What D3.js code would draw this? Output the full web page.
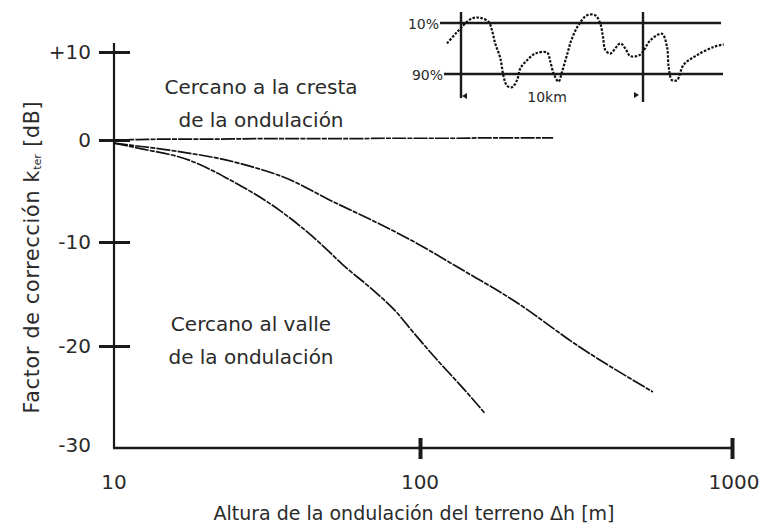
<!DOCTYPE html>
<html>
<head>
<meta charset="utf-8">
<script src="https://cdn.jsdelivr.net/npm/d3@7/dist/d3.min.js"></script>
<style>
  html, body { margin: 0; padding: 0; background: #fff; }
  svg { display: block; }
  text { font-family: "DejaVu Sans", "Liberation Sans", sans-serif; fill: #2a2a2a; }
</style>
</head>
<body>
<svg id="chart" width="761" height="530"></svg>
<script>
// Terrain correction factor vs. terrain undulation height (log x)
const xTicks = [10, 100, 1000];
const yTicks = [10, 0, -10, -20, -30];

// Receiver near the crest of the undulation
const crestH = [10, 12, 15, 20, 30, 45, 60, 80, 100, 130, 170, 220, 267];
const crestK = [0, 0.05, 0.1, 0.1, 0.15, 0.15, 0.15, 0.2, 0.2, 0.2, 0.25, 0.25, 0.25];

// Receiver near the valley – medium curve
const midH = [10, 11.3, 15.2, 25.8, 37.6, 50.8, 70, 90.6, 137, 199, 325, 558];
const midK = [-0.3, -0.5, -1.0, -2.3, -3.9, -5.9, -7.9, -9.6, -12.7, -15.6, -20.1, -24.5];

// Receiver near the valley – steep curve
const lowH = [10, 12, 17.7, 23.9, 34.8, 47.1, 56, 70.1, 84.1, 92.7, 113, 131.5, 144.6, 161.4];
const lowK = [-0.3, -0.8, -2.0, -3.9, -6.9, -10.1, -12.2, -14.6, -16.8, -18.3, -21.3, -23.5, -24.9, -26.6];

// Inset terrain profile: distance [km], relative height (0 = 90 % level, 1 = 10 % level)
const profKm = [-0.77, -0.22, 0.6, 1.06, 1.52, 1.7, 1.88, 2.16, 2.34, 2.53, 2.8, 3.08, 3.26, 3.63, 4.08,
  4.73, 4.91, 5.09, 5.36, 5.55, 5.82, 6.1, 6.46, 6.92, 7.38, 7.65, 7.8, 7.93, 8.2, 8.75, 9.03, 9.3,
  9.85, 10.4, 11.04, 11.32, 11.41, 11.59, 11.87, 12.23, 12.97, 13.88, 14.43];
const profH = [0.6, 0.82, 1.09, 1.1, 1.02, 0.86, 0.6, 0.31, -0.05, -0.23, -0.26, -0.12, 0.11, 0.27, 0.4,
  0.42, 0.24, 0.01, -0.15, 0.04, 0.37, 0.7, 0.96, 1.15, 1.15, 0.99, 0.73, 0.47, 0.4, 0.6, 0.5, 0.35,
  0.38, 0.66, 0.79, 0.53, 0.14, -0.12, -0.12, 0.18, 0.37, 0.53, 0.58];
const levelLabels = ["10%", "90%"];
const levelValues = [1, 0];
const spanKm = [0, 10];

const svg = d3.select("#chart");

const x = d3.scaleLog().domain([10, 100, 1000]).range([114, 420, 732]);
const y = d3.scaleLinear().domain([-30, -20, -10, 0, 10]).range([448, 346, 242, 140, 52]);

// Axis lines
svg.append("line").attr("x1", 114).attr("x2", 114).attr("y1", 43).attr("y2", y(-30))
  .attr("stroke", "#1a1a1a").attr("stroke-width", 2.2);
svg.append("line").attr("x1", 113).attr("x2", x(1000)).attr("y1", y(-30)).attr("y2", y(-30))
  .attr("stroke", "#1a1a1a").attr("stroke-width", 2.6);

// Y ticks crossing the axis
const yAxis = svg.append("g").attr("transform", "translate(114,0)")
  .call(d3.axisLeft(y).tickValues(yTicks.filter(v => v > -30)).tickSize(0)
    .tickFormat(() => ""));
yAxis.select(".domain").remove();
yAxis.selectAll(".tick line").attr("x1", -15).attr("x2", 16)
  .attr("stroke", "#1a1a1a").attr("stroke-width", 3);

svg.append("g").selectAll("text").data(yTicks).join("text")
  .attr("x", 91).attr("y", d => (d === -30 ? y(d) - 3 : y(d)))
  .attr("text-anchor", "end").attr("dominant-baseline", "central")
  .attr("font-size", 20)
  .text(d => d > 0 ? "+" + d : String(d));

// X ticks
const xAxis = svg.append("g").attr("transform", `translate(0,${y(-30)})`)
  .call(d3.axisBottom(x).tickValues(xTicks.filter(v => v > 10)).tickSize(0).tickFormat(() => ""));
xAxis.select(".domain").remove();
xAxis.selectAll(".tick line").attr("y1", -10).attr("y2", 11)
  .attr("stroke", "#1a1a1a").attr("stroke-width", 4);

svg.append("g").selectAll("text").data(xTicks).join("text")
  .attr("x", d => x(d) + (d === 1000 ? 2 : 0)).attr("y", 482)
  .attr("text-anchor", "middle").attr("dominant-baseline", "central")
  .attr("font-size", 20).text(d => d);

// Axis titles
svg.append("text").attr("x", 414).attr("y", 513).attr("text-anchor", "middle")
  .attr("dominant-baseline", "central").attr("font-size", 19)
  .text("Altura de la ondulación del terreno Δh [m]");

const yt = svg.append("text").attr("transform", "translate(32,257) rotate(-90)")
  .attr("text-anchor", "middle").attr("dominant-baseline", "central")
  .attr("font-size", 20.5).attr("letter-spacing", 0.8);
yt.append("tspan").text("Factor de corrección k");
yt.append("tspan").attr("font-size", 11).attr("letter-spacing", 0).attr("dy", 5).text("ter");
yt.append("tspan").attr("dy", -5).text(" [dB]");

// Curves
const line = d3.line().x(d => x(d[0])).y(d => y(d[1])).curve(d3.curveMonotoneX);
const curves = [
  d3.zip(crestH, crestK),
  d3.zip(midH, midK),
  d3.zip(lowH, lowK)
];
svg.append("g").selectAll("path").data(curves).join("path")
  .attr("d", line).attr("fill", "none").attr("stroke", "#111")
  .attr("stroke-width", 1.7).attr("stroke-dasharray", "14 1.2 5 1.2");

// Annotations
const ann = [
  { t: ["Cercano a la cresta", "de la ondulación"], cx: 261, y0: 87 },
  { t: ["Cercano al valle", "de la ondulación"], cx: 251, y0: 324 }
];
ann.forEach(a => {
  svg.append("g").selectAll("text").data(a.t).join("text")
    .attr("x", a.cx).attr("y", (d, i) => a.y0 + i * 33)
    .attr("text-anchor", "middle").attr("dominant-baseline", "central")
    .attr("font-size", 20).text(d => d);
});

// Inset: terrain profile with 10 % / 90 % levels
const ix = d3.scaleLinear().domain([0, 10]).range([461, 643]);
const iy = d3.scaleLinear().domain([0, 1]).range([74, 23]);
const inset = svg.append("g");

inset.selectAll("line.lvl").data(levelValues).join("line").attr("class", "lvl")
  .attr("x1", (d, i) => i === 0 ? 440 : 444).attr("x2", (d, i) => i === 0 ? 721 : 723)
  .attr("y1", d => iy(d)).attr("y2", d => iy(d))
  .attr("stroke", "#1a1a1a").attr("stroke-width", 2.4);

inset.selectAll("line.span").data(spanKm).join("line").attr("class", "span")
  .attr("x1", d => ix(d)).attr("x2", d => ix(d))
  .attr("y1", 12).attr("y2", (d, i) => i === 0 ? 98 : 102)
  .attr("stroke", "#1a1a1a").attr("stroke-width", 2.4);

inset.selectAll("text.lvl").data(levelLabels).join("text").attr("class", "lvl")
  .attr("x", (d, i) => i === 0 ? 439 : 443).attr("y", (d, i) => iy(levelValues[i]) + 1)
  .attr("text-anchor", "end").attr("dominant-baseline", "central")
  .attr("font-size", 14).text(d => d);

// span arrows
inset.append("path")
  .attr("d", `M${ix(0) + 1},96 l5,-3 v6 z`).attr("fill", "#1a1a1a");
inset.append("path")
  .attr("d", `M${ix(10) - 4},95 l-5,-3 v6 z`).attr("fill", "#1a1a1a");

inset.append("text").attr("x", ix(5) - 5).attr("y", 97).attr("text-anchor", "middle")
  .attr("dominant-baseline", "central").attr("font-size", 14).text("10km");

const pline = d3.line().x(d => ix(d[0])).y(d => iy(d[1])).curve(d3.curveCatmullRom);
inset.append("path").datum(d3.zip(profKm, profH)).attr("d", pline)
  .attr("fill", "none").attr("stroke", "#111").attr("stroke-width", 2.2)
  .attr("stroke-dasharray", "2.5 1.5");
</script>
</body>
</html>
